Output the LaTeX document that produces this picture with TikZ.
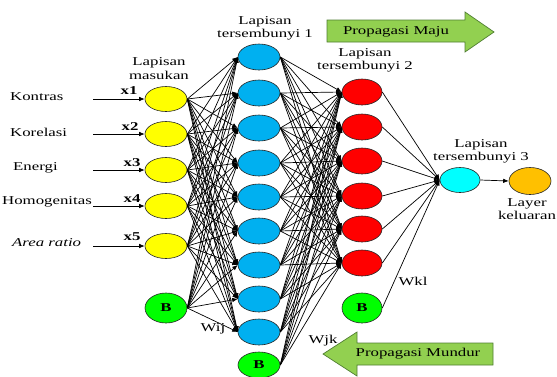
\documentclass[tikz,border=0pt]{standalone}
\usepackage{fontspec}
\setmainfont{Liberation Serif}[FakeStretch=1.4]
\usetikzlibrary{shapes.geometric,arrows.meta}
\definecolor{cyel}{HTML}{FFFF00}
\definecolor{cblue}{HTML}{00B0F0}
\definecolor{cred}{HTML}{FF0000}
\definecolor{cgreen}{HTML}{00FF00}
\definecolor{ccyan}{HTML}{00FFFF}
\definecolor{corange}{HTML}{FFC000}
\definecolor{carrow}{HTML}{92D050}
\definecolor{carrowdraw}{HTML}{507E32}
\begin{document}
\begin{tikzpicture}[x=1pt,y=-1pt,
  font=\fontsize{12}{13.5}\selectfont,
  neuron/.style={ellipse,draw=black!85,line width=0.6pt,minimum width=42pt,minimum height=26pt,inner sep=0pt},
  inneuron/.style={neuron,fill=cyel,minimum height=25pt},
  h1neuron/.style={neuron,fill=cblue},
  h2neuron/.style={neuron,fill=cred,minimum width=40pt},
  biasnode/.style={neuron,fill=cgreen,minimum height=30pt,font=\fontsize{12}{13.5}\selectfont\bfseries},
  wire/.style={draw=black,line width=0.7pt,-{Latex[length=5.5pt,width=4.5pt]}},
  lbl/.style={inner sep=0pt,align=center},
  xlbl/.style={inner sep=0pt,font=\fontsize{12}{13.5}\selectfont\bfseries},
  blockarrow/.style={fill=carrow,draw=carrowdraw,line width=0.7pt}
]
\useasboundingbox (0,0) rectangle (557,376);

% block arrows
\draw[blockarrow] (327,20) -- (465,20) -- (465,12) -- (494,32) -- (465,52) -- (465,42) -- (327,42) -- cycle;
\node[lbl] (maju) at (396,32) {Propagasi Maju};
\draw[blockarrow] (493,343) -- (357,343) -- (357,332) -- (323,354) -- (357,376) -- (357,365) -- (493,365) -- cycle;
\node[lbl] (mundur) at (418,354) {Propagasi Mundur};

% input layer
\node[inneuron] (i1) at (166,99) {};
\node[inneuron] (i2) at (166,134) {};
\node[inneuron] (i3) at (166,170) {};
\node[inneuron] (i4) at (166,206) {};
\node[inneuron] (i5) at (166,246) {};
\node[biasnode] (iB) at (166,308) {B};

% hidden layer 1
\foreach \n/\y in {1/57,2/93,3/128,4/163,5/197,6/231,7/265,8/299,9/332}
  \node[h1neuron] (h\n) at (259,\y) {};
\node[biasnode,minimum height=26pt] (hB) at (259,365) {B};

% hidden layer 2
\foreach \n/\y in {1/92,2/127,3/161,4/196,5/229,6/263}
  \node[h2neuron] (r\n) at (362,\y) {};
\node[biasnode,minimum width=40pt] (rB) at (362,308) {B};

% hidden layer 3 and output
\node[neuron,fill=ccyan,minimum width=40pt,minimum height=25pt] (c3) at (460,180) {};
\node[neuron,fill=corange,minimum height=27pt] (o) at (530,181) {};

% input texts
\node[lbl,anchor=west] (t1) at (10,97) {Kontras};
\node[lbl,anchor=west] (t2) at (10,132) {Korelasi};
\node[lbl,anchor=west] (t3) at (13,168) {Energi};
\node[lbl,anchor=west] (t4) at (2,202) {Homogenitas};
\node[lbl,anchor=west] (t5) at (12,243) {\itshape Area ratio};

% input arrows
\foreach \n/\y in {1/99,2/134,3/170,4/206,5/246}{
  \coordinate (s\n) at (93,\y);
  \draw[wire] (s\n) -- (i\n.west);
}
\node[xlbl] (x1) at (129,91) {x1};
\node[xlbl] (x2) at (130,127) {x2};
\node[xlbl] (x3) at (132,163) {x3};
\node[xlbl] (x4) at (132,199) {x4};
\node[xlbl] (x5) at (132,237) {x5};

% connections
\foreach \s in {i1,i2,i3,i4,i5,iB}
  \foreach \t in {1,...,9}
    \draw[wire] (\s.east) -- (h\t.west);
\foreach \s in {h1,h2,h3,h4,h5,h6,h7,h8,h9,hB}
  \foreach \t in {1,...,6}
    \draw[wire] (\s.east) -- (r\t.west);
\foreach \s in {r1,r2,r3,r4,r5,r6,rB}
  \draw[wire] (\s.east) -- (c3.west);
\draw[wire] (c3.east) -- (o.west);

% layer labels
\node[lbl] (lin) at (159,68.5) {Lapisan\\masukan};
\node[lbl] (lh1) at (265,28.5) {Lapisan\\tersembunyi 1};
\node[lbl] (lh2) at (365,60.5) {Lapisan\\tersembunyi 2};
\node[lbl] (lh3) at (481,151.5) {Lapisan\\tersembunyi 3};
\node[lbl] (lout) at (527,209) {Layer\\keluaran};

% weights
\node[lbl] (wij) at (213,329) {Wij};
\node[lbl] (wjk) at (323,341) {Wjk};
\node[lbl] (wkl) at (413,281) {Wkl};
\end{tikzpicture}
\end{document}
